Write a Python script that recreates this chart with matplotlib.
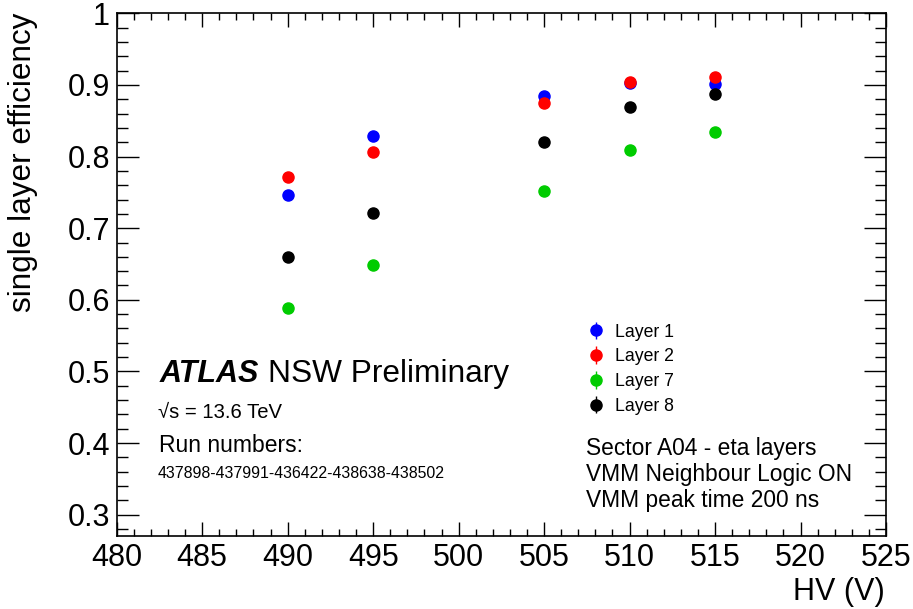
import numpy as np
import matplotlib.pyplot as plt
from matplotlib.ticker import MultipleLocator

plt.rcParams['font.family'] = ['Liberation Sans', 'DejaVu Sans']

hv = [490, 495, 505, 510, 515]
layer1 = [0.747, 0.829, 0.884, 0.902, 0.901]
layer2 = [0.772, 0.807, 0.875, 0.904, 0.911]
layer7 = [0.588, 0.649, 0.752, 0.809, 0.834]
layer8 = [0.660, 0.721, 0.820, 0.869, 0.887]
err = [0.004, 0.004, 0.004, 0.004, 0.004]

series = [("Layer 1", layer1, "#0000ff"),
          ("Layer 2", layer2, "#ff0000"),
          ("Layer 7", layer7, "#00cc00"),
          ("Layer 8", layer8, "#000000")]

W, H = 913, 609
fig = plt.figure(figsize=(W/100, H/100), dpi=100)
ax = fig.add_axes([116.7/W, 1 - 535.7/H, (886 - 116.7)/W, (535.7 - 13.3)/H])

for lab, y, c in series:
    ax.errorbar(hv, y, yerr=err, fmt='o', color=c, ms=8, elinewidth=1,
                capsize=0, label=lab)

ax.set_xlim(480, 525)
ax.set_ylim(0.2707, 1.0)
ax.xaxis.set_major_locator(MultipleLocator(5))
ax.xaxis.set_minor_locator(MultipleLocator(1))
ax.yaxis.set_major_locator(MultipleLocator(0.1))
ax.yaxis.set_minor_locator(MultipleLocator(0.02))
ax.yaxis.set_major_formatter(plt.FuncFormatter(lambda v, p: f"{v:g}"))

ax.tick_params(which='both', direction='in', top=True, right=True, width=1,
               labelsize=22)
ax.tick_params(axis='x', which='major', length=10, pad=5)
ax.tick_params(axis='x', which='minor', length=4.7)
ax.tick_params(axis='y', which='major', length=16, pad=5)
ax.tick_params(axis='y', which='minor', length=8)
for s in ax.spines.values():
    s.set_linewidth(1.2)

fig.text(23/W, 1 - 13/H, "single layer efficiency", rotation=90,
         ha='center', va='top', fontsize=22.7)
fig.text(885/W, 1 - 600/H, "HV (V)", ha='right', va='baseline', fontsize=22)

fig.text(160/W, 1 - 381.7/H, "ATLAS", fontsize=22, fontweight='bold',
         fontstyle='italic', va='baseline')
fig.text(268/W, 1 - 381.7/H, "NSW Preliminary", fontsize=22.8,
         va='baseline')
fig.text(158/W, 1 - 418/H, "\u221as = 13.6 TeV", fontsize=14.6,
         va='baseline')
fig.text(159/W, 1 - 451.7/H, "Run numbers:", fontsize=16.5, va='baseline')
fig.text(158/W, 1 - 478/H, "437898-437991-436422-438638-438502",
         fontsize=11.4, va='baseline')

for i, line in enumerate(["Sector A04 - eta layers",
                          "VMM Neighbour Logic ON",
                          "VMM peak time 200 ns"]):
    fig.text(586/W, 1 - (455 + 26*i)/H, line, fontsize=16.4, va='baseline')

ax.legend(loc='center left', bbox_to_anchor=(587/W, 1 - 369.2/H),
          bbox_transform=fig.transFigure, frameon=False, fontsize=12.7,
          handlelength=1.0, handletextpad=0.6, labelspacing=0.44,
          borderpad=0, borderaxespad=0)

fig.savefig("out.png", dpi=100)
